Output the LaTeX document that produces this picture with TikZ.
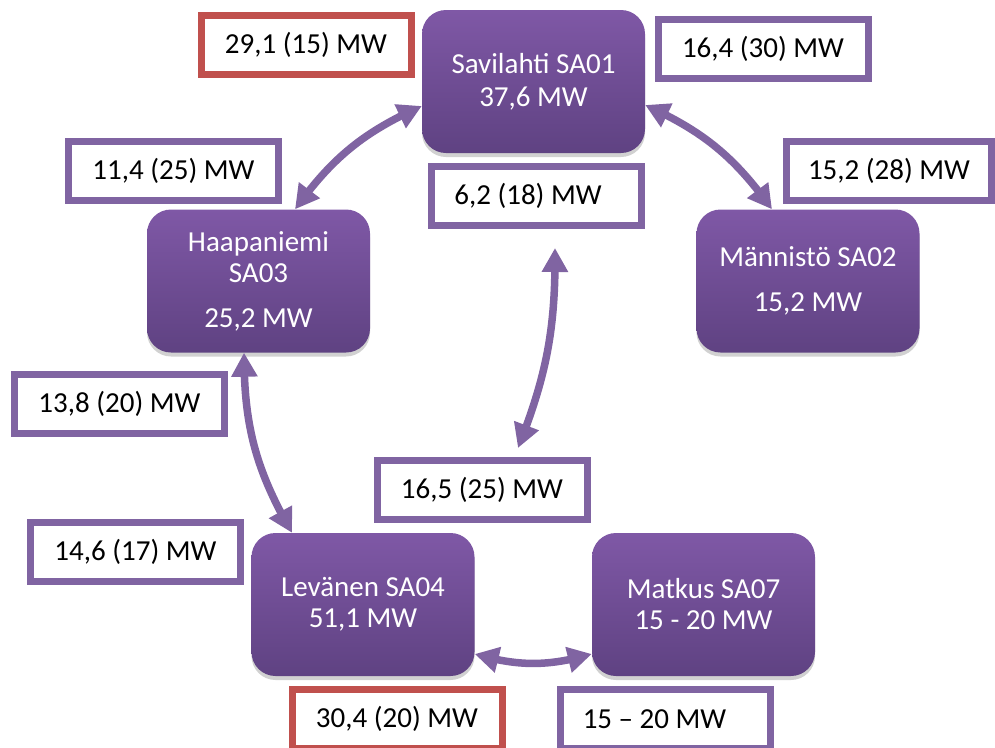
\documentclass[tikz,border=0pt]{standalone}
\usepackage{fontspec}
\setmainfont{Carlito}
\usetikzlibrary{arrows.meta,bending,shadows}
\definecolor{pur}{RGB}{128,100,162}
\definecolor{redb}{RGB}{192,80,77}
\definecolor{ntop}{RGB}{127,88,166}
\definecolor{nbot}{RGB}{95,66,130}
\begin{document}
\begin{tikzpicture}[x=1pt,y=-1pt,
 station/.style={rounded corners=24pt, top color=ntop, bottom color=nbot,
   minimum width=223pt, minimum height=143pt, inner sep=0pt, text=white,
   align=center, font=\fontsize{29pt}{33pt}\selectfont,
   drop shadow={shadow xshift=0pt, shadow yshift=-4pt, opacity=0.18, fill=black}},
 lab/.style={draw=pur, fill=white, line width=7pt, minimum width=210pt,
   minimum height=59pt, inner sep=0pt, font=\fontsize{29pt}{33pt}\selectfont},
 labred/.style={lab, draw=redb},
 conn/.style={draw=pur, line width=7.5pt,
   {Triangle[length=24pt,width=25pt]}-{Triangle[length=24pt,width=25pt]}}
]
\useasboundingbox (0,0) rectangle (995,747);

% stations
\node[station] (sav) at (533.5,81.5) {Savilahti SA01\\37,6 MW};
\node[station] (man) at (808,281) {Männistö SA02\\[12pt]15,2 MW};
\node[station] (haa) at (258.5,281) {Haapaniemi\\[-2pt]SA03\\[12pt]25,2 MW};
\node[station] (lev) at (363,604.5) {Levänen SA04\\[-2pt]51,1 MW};
\node[station] (mat) at (703.5,604.5) {Matkus SA07\\[-2pt]15 - 20 MW};

% labels
\node[labred] (l291) at (306,45) {29,1 (15) MW};
\node[lab] (l164) at (763,48.5) {16,4 (30) MW};
\node[lab, minimum width=205pt] (l152) at (889,170.5) {15,2 (28) MW};
\node[lab] (l114) at (173.5,171) {11,4 (25) MW};
\node[lab] (l62) at (536.5,196) {6,2 (18) MW\rule{17pt}{0pt}};
\node[lab] (l138) at (119.5,403.5) {13,8 (20) MW};
\node[lab] (l165) at (482,490) {16,5 (25) MW};
\node[lab] (l146) at (135.5,552) {14,6 (17) MW};
\node[labred] (l304) at (397,719) {30,4 (20) MW};
\node[lab] (l1520) at (665.5,719) {15 – 20 MW\rule{22pt}{0pt}};

% connectors
\draw[conn] ([yshift=-24.5pt]sav.west) to[bend right=15] ([xshift=36.5pt]haa.north);
\draw[conn] ([yshift=-23.5pt]sav.east) to[bend left=15] ([xshift=-36pt]man.north);
\draw[conn] ([xshift=-14.5pt]haa.south) to[bend right=15] ([xshift=-71pt]lev.north);
\draw[conn] ([xshift=18.5pt,yshift=-19pt]l62.south) to[bend left=11] ([xshift=36pt,yshift=9pt]l165.north);
\draw[conn] ([yshift=-49.5pt]lev.east) to[bend right=16] ([yshift=-49.5pt]mat.west);
\end{tikzpicture}
\end{document}
